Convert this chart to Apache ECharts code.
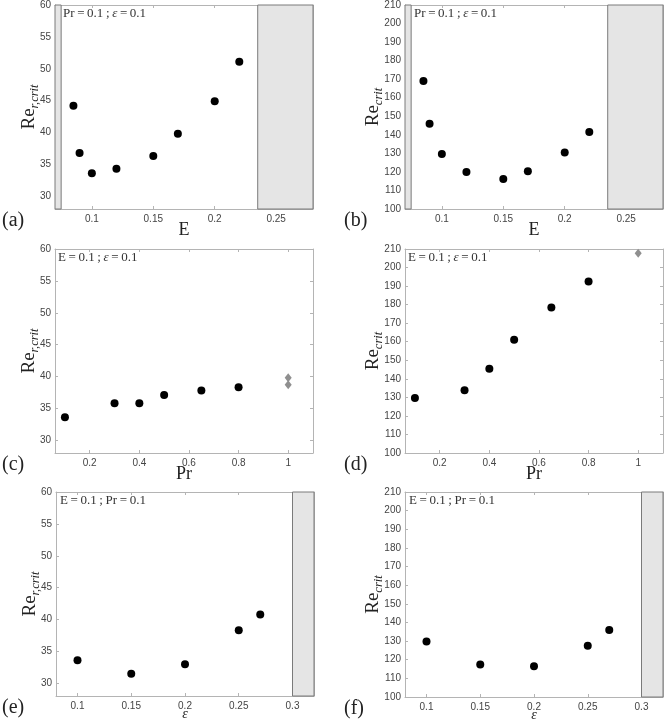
<!DOCTYPE html>
<html>
<head>
<meta charset="utf-8">
<script src="https://cdn.jsdelivr.net/npm/echarts@6/dist/echarts.min.js"></script>
<style>
html, body { margin: 0; padding: 0; background: #fff; }
#chart { width: 664px; height: 721px; }
</style>
</head>
<body>
<div id="chart"></div>
<script>
// values
var eVals = [0.085, 0.09, 0.1, 0.12, 0.15, 0.17, 0.2, 0.22];
var reRE = [44.2, 36.8, 33.6, 34.3, 36.3, 39.8, 44.9, 51.1];
var reE = [169.0, 146.0, 129.7, 120.0, 116.2, 120.3, 130.4, 141.5];

var prVals = [0.1, 0.3, 0.4, 0.5, 0.65, 0.8];
var reRPr = [33.6, 35.8, 35.8, 37.1, 37.8, 38.3];
var rePr = [129.7, 133.9, 145.4, 161.1, 178.5, 192.5];
var prGrayR = [1, 1];
var reRPrGray = [39.8, 38.7];
var prGray = [1];
var rePrGray = [207.7];

var epsVals = [0.1, 0.15, 0.2, 0.25, 0.27];
var reREps = [33.6, 31.5, 33.0, 38.3, 40.8];
var reEps = [129.8, 117.4, 116.5, 127.5, 135.9];

// shaded (excluded) ranges
var eBands = [[0.07, 0.075], [0.235, 0.28]];
var epsBands = [[0.3, 0.32]];

// tick labels
var yTicksR = [30, 35, 40, 45, 50, 55, 60];
var yTicks = [100, 110, 120, 130, 140, 150, 160, 170, 180, 190, 200, 210];
var eTicks = [0.1, 0.15, 0.2, 0.25];
var prTicks = [0.2, 0.4, 0.6, 0.8, 1];
var epsTicks = [0.1, 0.15, 0.2, 0.25, 0.3];

var serif = "'Liberation Serif', 'DejaVu Serif', serif";
var sans = "'Liberation Sans', Arial, sans-serif";

var grids = [
	{left: 55, top: 5, width: 258, height: 204, outerBoundsMode: "none"},
	{left: 405, top: 5, width: 258, height: 204, outerBoundsMode: "none"},
	{left: 55, top: 249, width: 258, height: 204, outerBoundsMode: "none"},
	{left: 405, top: 249, width: 258, height: 204, outerBoundsMode: "none"},
	{left: 56, top: 492, width: 258, height: 204, outerBoundsMode: "none"},
	{left: 405, top: 492, width: 258, height: 205, outerBoundsMode: "none"}
];

function zip(xs, ys) {
	return xs.map(function (x, i) { return [x, ys[i]]; });
}

function fmt(v) {
	return String(+v.toFixed(3));
}

var panels = [
	{xMin: 0.07, xMax: 0.28, xTicks: eTicks, xName: "{n|E}", reduced: true, pts: zip(eVals, reRE), bands: eBands},
	{xMin: 0.07, xMax: 0.28, xTicks: eTicks, xName: "{n|E}", reduced: false, pts: zip(eVals, reE), bands: eBands},
	{xMin: 0.06, xMax: 1.1, xTicks: prTicks, xName: "{n|Pr}", reduced: true, pts: zip(prVals, reRPr), gray: zip(prGrayR, reRPrGray), bands: []},
	{xMin: 0.06, xMax: 1.1, xTicks: prTicks, xName: "{n|Pr}", reduced: false, pts: zip(prVals, rePr), gray: zip(prGray, rePrGray), bands: []},
	{xMin: 0.08, xMax: 0.32, xTicks: epsTicks, xName: "{e|ε}", reduced: true, pts: zip(epsVals, reREps), bands: epsBands},
	{xMin: 0.08, xMax: 0.32, xTicks: epsTicks, xName: "{e|ε}", reduced: false, pts: zip(epsVals, reEps), bands: epsBands}
];

var boxColor = "#b4b4b4";

var option = {
	animation: false,
	backgroundColor: "#fff",
	grid: grids,
	xAxis: [],
	yAxis: [],
	series: [],
	graphic: []
};

panels.forEach(function (p, i) {
	var yMin = p.reduced ? 28 : 100;
	var yMax = p.reduced ? 60 : 210;
	var yT = p.reduced ? yTicksR : yTicks;
	var nameRich = {
		n: {fontFamily: serif, fontSize: 18, color: "#222"},
		e: {fontFamily: serif, fontSize: 14, fontStyle: "italic", color: "#222"},
		re: {fontFamily: serif, fontSize: 19, color: "#222"},
		sub: {fontFamily: serif, fontSize: 12.5, fontStyle: "italic", color: "#222", padding: [11, 0, 0, 0]}
	};
	var lineStyle = {color: boxColor, width: 1};

	option.xAxis.push({
		type: "value", gridIndex: i, min: p.xMin, max: p.xMax, position: "bottom",
		name: p.xName, nameLocation: "middle", nameMoveOverlap: false,
		nameGap: p.xName == "{e|ε}" ? 11 : 12,
		nameTextStyle: {rich: nameRich},
		axisLine: {show: true, onZero: false, lineStyle: lineStyle},
		axisTick: {show: true, inside: true, length: 3, customValues: p.xTicks, lineStyle: lineStyle},
		axisLabel: {customValues: p.xTicks, formatter: fmt, fontFamily: sans, fontSize: 10, color: "#444", margin: 5},
		splitLine: {show: false}
	});
	option.xAxis.push({
		type: "value", gridIndex: i, min: p.xMin, max: p.xMax, position: "top",
		axisLine: {show: true, onZero: false, lineStyle: lineStyle},
		axisTick: {show: true, inside: true, length: 3, customValues: p.xTicks, lineStyle: lineStyle},
		axisLabel: {show: false},
		splitLine: {show: false}
	});
	option.yAxis.push({
		type: "value", gridIndex: i, min: yMin, max: yMax, position: "left",
		name: p.reduced ? "{re|Re}{sub|r,crit}" : "{re|Re}{sub|crit}",
		nameLocation: "middle", nameRotate: 90, nameMoveOverlap: false,
		nameGap: p.reduced ? 14 : 20,
		nameTextStyle: {rich: nameRich},
		axisLine: {show: true, onZero: false, lineStyle: lineStyle},
		axisTick: {show: true, inside: true, length: 3, customValues: yT, lineStyle: lineStyle},
		axisLabel: {customValues: yT, fontFamily: sans, fontSize: 10, color: "#444", margin: 4},
		splitLine: {show: false}
	});
	option.yAxis.push({
		type: "value", gridIndex: i, min: yMin, max: yMax, position: "right",
		axisLine: {show: true, onZero: false, lineStyle: lineStyle},
		axisTick: {show: true, inside: true, length: 3, customValues: yT, lineStyle: lineStyle},
		axisLabel: {show: false},
		splitLine: {show: false}
	});

	option.series.push({
		type: "scatter",
		xAxisIndex: 2 * i, yAxisIndex: 2 * i,
		data: p.pts,
		symbol: "circle", symbolSize: 8,
		itemStyle: {color: "#000", opacity: 1},
		z: 5,
		markArea: {
			silent: true,
			itemStyle: {color: "#e5e5e5", borderColor: "#7a7a7a", borderWidth: 1},
			data: p.bands.map(function (b) {
				return [{xAxis: b[0]}, {xAxis: b[1]}];
			})
		}
	});
	if (p.gray) {
		option.series.push({
			type: "scatter",
			xAxisIndex: 2 * i, yAxisIndex: 2 * i,
			data: p.gray,
			symbol: "diamond", symbolSize: [7, 9],
			itemStyle: {color: "#8f8f8f", opacity: 1},
			z: 5
		});
	}
});

// annotations inside each box
var notes = [
	{i: 0, dx: 8, dy: 10, text: "Pr\u2009=\u20090.1\u2009;\u2009{i|ε}\u2009=\u20090.1"},
	{i: 1, dx: 9, dy: 10, text: "Pr\u2009=\u20090.1\u2009;\u2009{i|ε}\u2009=\u20090.1"},
	{i: 2, dx: 3, dy: 10, text: "E\u2009=\u20090.1\u2009;\u2009{i|ε}\u2009=\u20090.1"},
	{i: 3, dx: 3, dy: 10, text: "E\u2009=\u20090.1\u2009;\u2009{i|ε}\u2009=\u20090.1"},
	{i: 4, dx: 4, dy: 10, text: "E\u2009=\u20090.1\u2009;\u2009Pr\u2009=\u20090.1"},
	{i: 5, dx: 4, dy: 10, text: "E\u2009=\u20090.1\u2009;\u2009Pr\u2009=\u20090.1"}
];
notes.forEach(function (n) {
	var g = grids[n.i];
	option.graphic.push({
		type: "text", left: g.left + n.dx, top: g.top + n.dy - 8, z: 10,
		style: {
			text: n.text, fill: "#333", font: "13px " + serif,
			rich: {i: {fontFamily: serif, fontSize: 13, fontStyle: "italic", fill: "#333"}}
		}
	});
});

// panel letters
var letters = ["(a)", "(b)", "(c)", "(d)", "(e)", "(f)"];
letters.forEach(function (l, i) {
	var g = grids[i];
	option.graphic.push({
		type: "text", left: i % 2 ? 344 : 2, top: g.top + g.height + 2, z: 10,
		style: {text: l, fill: "#222", font: "20px " + serif}
	});
});

var chart = echarts.init(document.getElementById("chart"));
chart.setOption(option);
</script>
</body>
</html>
